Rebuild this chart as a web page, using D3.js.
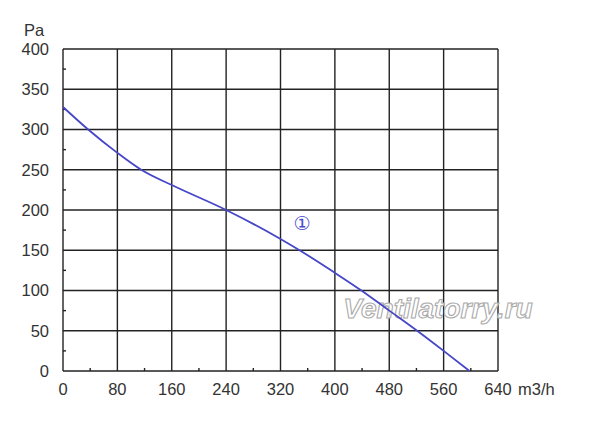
<!DOCTYPE html>
<html>
<head>
<meta charset="utf-8">
<script src="https://cdn.jsdelivr.net/npm/d3@7"></script>
<style>
  body { margin: 0; background: #fff; }
  svg { display: block; font-family: "Liberation Sans", Arial, sans-serif; }
</style>
</head>
<body>
<div id="chart"></div>
<script>
// flow rate (m3/h) and static pressure (Pa)
var flow     = [0, 37, 80, 115, 160, 240, 320, 348, 400, 439, 480, 521, 560, 598];
var pressure = [328, 300, 271, 250, 231, 200, 164, 150, 122, 100, 75, 50, 25, 0];
var xTicks = [0, 80, 160, 240, 320, 400, 480, 560, 640];
var yTicks = [0, 50, 100, 150, 200, 250, 300, 350, 400];

var width = 600, height = 422;
var margin = {top: 49, right: 102, bottom: 51, left: 63};

var svg = d3.select("#chart").append("svg")
    .attr("width", width)
    .attr("height", height);

var x = d3.scaleLinear().domain([0, 640]).range([margin.left, width - margin.right]);
var y = d3.scaleLinear().domain([0, 400]).range([height - margin.bottom, margin.top]);

// grid
var grid = svg.append("g").attr("stroke", "#222").attr("stroke-width", 1.4);
grid.selectAll(".vx").data(xTicks).enter().append("line")
    .attr("x1", d => x(d)).attr("x2", d => x(d))
    .attr("y1", y(0)).attr("y2", y(400));
grid.selectAll(".hy").data(yTicks).enter().append("line")
    .attr("x1", x(0)).attr("x2", x(640))
    .attr("y1", d => y(d)).attr("y2", d => y(d));

// minor ticks on the axes
var minorX = d3.range(40, 640, 80), minorY = d3.range(25, 400, 50);
grid.selectAll(".mx").data(minorX).enter().append("line")
    .attr("x1", d => x(d)).attr("x2", d => x(d))
    .attr("y1", y(0)).attr("y2", y(0) - 3);
grid.selectAll(".my").data(minorY).enter().append("line")
    .attr("x1", x(0)).attr("x2", x(0) + 3)
    .attr("y1", d => y(d)).attr("y2", d => y(d));

// tick labels
svg.append("g").selectAll("text").data(yTicks).enter().append("text")
    .attr("x", 49).attr("y", d => y(d)).attr("dy", "0.35em")
    .attr("text-anchor", "end").attr("font-size", 16.5).attr("fill", "#333")
    .text(d => d);
svg.append("g").selectAll("text").data(xTicks).enter().append("text")
    .attr("x", d => x(d)).attr("y", 395)
    .attr("text-anchor", "middle").attr("font-size", 16.5).attr("fill", "#333")
    .text(d => d);

svg.append("text").attr("x", 24).attr("y", 36)
    .attr("font-size", 16.5).attr("fill", "#333").text("Pa");
svg.append("text").attr("x", 518).attr("y", 395)
    .attr("font-size", 16.5).attr("fill", "#333").text("m3/h");

// watermark
svg.append("text")
    .attr("x", 438).attr("y", 318)
    .attr("text-anchor", "middle")
    .attr("font-size", 28).attr("font-style", "italic").attr("font-weight", "bold")
    .attr("fill", "#fff").attr("fill-opacity", 0.85)
    .attr("stroke", "#aaa").attr("stroke-width", 1.1)
    .text("Ventilatorry.ru");

// curve
var line = d3.line()
    .x(d => x(d[0]))
    .y(d => y(d[1]))
    .curve(d3.curveMonotoneX);

svg.append("path")
    .datum(d3.zip(flow, pressure))
    .attr("d", line)
    .attr("fill", "none")
    .attr("stroke", "#4646c8")
    .attr("stroke-width", 1.8);

svg.append("text")
    .attr("x", 302).attr("y", 223).attr("dy", "0.35em")
    .attr("text-anchor", "middle").attr("font-size", 19).attr("fill", "#4a4ad0")
    .attr("font-family", "DejaVu Sans")
    .text("①");
</script>
</body>
</html>
